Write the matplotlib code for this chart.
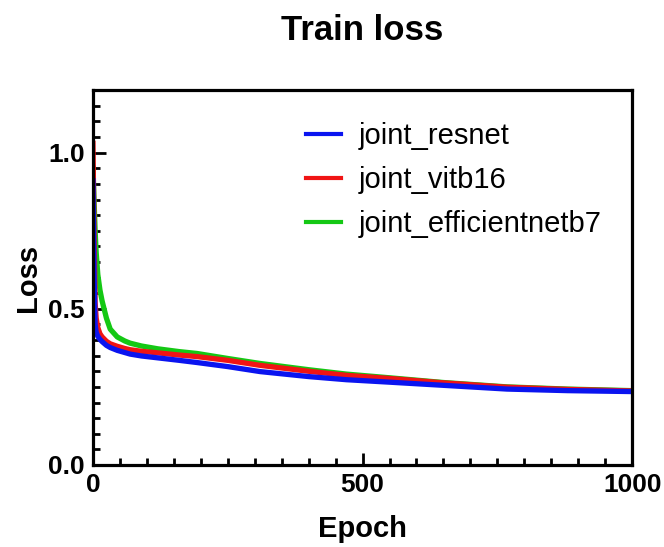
import matplotlib
matplotlib.use("Agg")
import matplotlib.pyplot as plt
from matplotlib.ticker import MultipleLocator

plt.rcParams['font.family'] = ['Liberation Sans', 'DejaVu Sans']

# values
epochs = [0, 2, 4, 6, 9, 13, 17, 25, 32, 45, 59, 69, 90, 120, 160, 193,
          250, 310, 400, 470, 551, 650, 768, 880, 1000]

loss_resnet = [0.91, 0.62, 0.45, 0.425, 0.412, 0.402, 0.395, 0.383, 0.376, 0.367,
               0.36, 0.355, 0.349, 0.343, 0.335, 0.328, 0.315, 0.299, 0.283,
               0.273, 0.265, 0.255, 0.243, 0.238, 0.235]
loss_vitb16 = [1.03, 0.75, 0.52, 0.47, 0.44, 0.42, 0.41, 0.396, 0.388, 0.38,
               0.373, 0.369, 0.364, 0.359, 0.352, 0.347, 0.335, 0.319, 0.300,
               0.287, 0.277, 0.263, 0.249, 0.242, 0.237]
loss_effnet = [0.95, 0.85, 0.75, 0.68, 0.61, 0.56, 0.525, 0.47, 0.435, 0.41,
               0.397, 0.39, 0.381, 0.372, 0.363, 0.357, 0.341, 0.325, 0.305,
               0.291, 0.279, 0.264, 0.25, 0.243, 0.238]

labels = ['joint_resnet', 'joint_vitb16', 'joint_efficientnetb7']
colors = ['#0a14f0', '#f01414', '#14c814']

fig = plt.figure(figsize=(6.64, 5.47), dpi=100)
ax = fig.add_axes([0.140, 0.150, 0.812, 0.685])

# green first so blue ends up on top
l3, = ax.plot(epochs, loss_effnet, color=colors[2], lw=3.8)
l2, = ax.plot(epochs, loss_vitb16, color=colors[1], lw=3.8)
l1, = ax.plot(epochs, loss_resnet, color=colors[0], lw=3.8)

ax.set_xlim(0, 1000)
ax.set_ylim(0, 1.2)
ax.xaxis.set_major_locator(MultipleLocator(500))
ax.xaxis.set_minor_locator(MultipleLocator(50))
ax.yaxis.set_major_locator(MultipleLocator(0.5))
ax.yaxis.set_minor_locator(MultipleLocator(0.05))
ax.yaxis.set_major_formatter(plt.FuncFormatter(lambda v, p: f'{v:.1f}'))

for s in ax.spines.values():
    s.set_linewidth(2.3)
ax.tick_params(which='major', direction='in', length=9, width=2, labelsize=19, pad=6)
ax.tick_params(which='minor', direction='in', length=5, width=2)
for t in ax.get_xticklabels() + ax.get_yticklabels():
    t.set_fontweight('bold')

ax.set_xlabel('Epoch', fontsize=21, fontweight='bold', labelpad=13)
ax.set_ylabel('Loss', fontsize=21, fontweight='bold', labelpad=4)
fig.text(0.545, 1 - 31 / 547, 'Train loss', fontsize=25, fontweight='bold',
         ha='center', va='center')

leg = ax.legend([l1, l2, l3], labels, loc='upper left', bbox_to_anchor=(0.373, 0.946),
                frameon=False, fontsize=21, handlelength=1.2, handletextpad=0.6,
                labelspacing=0.55, borderaxespad=0)
for ln in leg.get_lines():
    ln.set_linewidth(3)

fig.savefig('out.png', dpi=100)
